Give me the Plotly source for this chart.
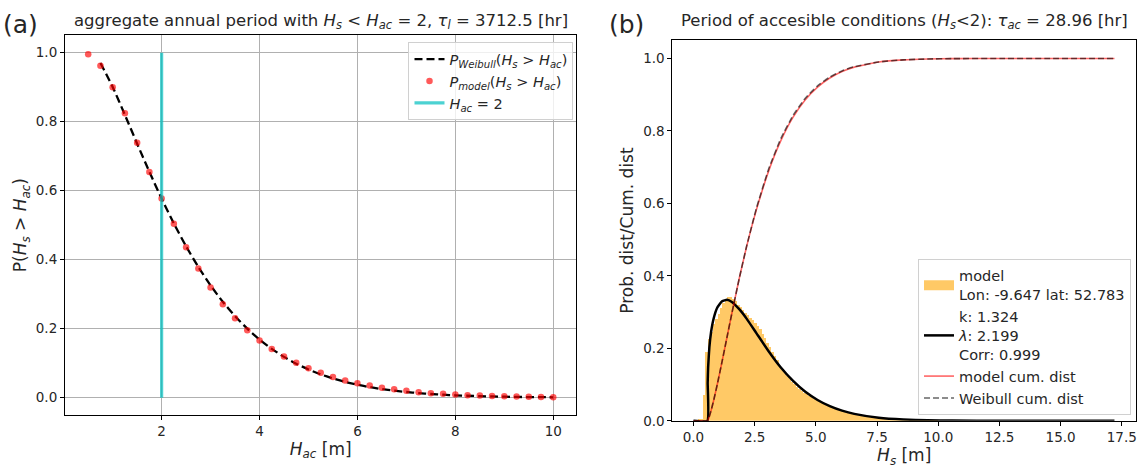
import plotly.graph_objects as go

# ---------------- panel (a): exceedance probability ----------------
hac_model = [0.5, 0.75, 1.0, 1.25, 1.5, 1.75, 2.0, 2.25, 2.5, 2.75, 3.0, 3.25, 3.5,
             3.75, 4.0, 4.25, 4.5, 4.75, 5.0, 5.25, 5.5, 5.75, 6.0, 6.25, 6.5, 6.75,
             7.0, 7.25, 7.5, 7.75, 8.0, 8.25, 8.5, 8.75, 9.0, 9.25, 9.5, 9.75, 10.0]
p_model = [0.995, 0.962, 0.900, 0.824, 0.739, 0.654, 0.577, 0.504, 0.436, 0.374,
           0.319, 0.271, 0.230, 0.195, 0.166, 0.141, 0.119, 0.101, 0.085, 0.072,
           0.060, 0.050, 0.042, 0.035, 0.029, 0.024, 0.020, 0.016, 0.013, 0.011,
           0.009, 0.007, 0.006, 0.005, 0.004, 0.003, 0.0025, 0.002, 0.0015]
hac_weib = hac_model[1:]
p_weib = [0.970, 0.9006, 0.8195, 0.7361, 0.6545, 0.577, 0.5048, 0.4386, 0.3789,
          0.3254, 0.2779, 0.2364, 0.2000, 0.1685, 0.1414, 0.1182, 0.0984, 0.0817,
          0.0675, 0.0557, 0.0457, 0.0374, 0.0306, 0.0249, 0.0202, 0.0164, 0.0132,
          0.0106, 0.0085, 0.0068, 0.0055, 0.0044, 0.0035, 0.0028, 0.0022, 0.0017,
          0.0014, 0.0011]
h_access = 2
tau_l = 3712.5

# ---------------- panel (b): distribution of Hs ----------------
hist_left = [round(0.1 * i, 1) for i in range(100)]
hist_dens = [0.0, 0.002, 0.003, 0.004, 0.07, 0.19, 0.225, 0.245, 0.265, 0.28,
             0.295, 0.31, 0.325, 0.335, 0.342, 0.34, 0.335, 0.33, 0.32, 0.312,
             0.305, 0.297, 0.29, 0.283, 0.276, 0.268, 0.26, 0.252, 0.24, 0.228,
             0.215, 0.203, 0.19, 0.178, 0.166, 0.148, 0.138, 0.13, 0.122, 0.114,
             0.107, 0.1, 0.093, 0.087, 0.081, 0.076, 0.072, 0.068, 0.064, 0.06,
             0.057, 0.053, 0.05, 0.047, 0.044, 0.041, 0.038, 0.036, 0.033, 0.031,
             0.029, 0.027, 0.025, 0.023, 0.022, 0.02, 0.019, 0.017, 0.016, 0.015,
             0.014, 0.013, 0.012, 0.011, 0.01, 0.0095, 0.009, 0.008, 0.0075, 0.007,
             0.0065, 0.006, 0.0055, 0.005, 0.0045, 0.004, 0.0037, 0.0034, 0.003,
             0.0028, 0.0025, 0.0022, 0.002, 0.0018, 0.0016, 0.0015, 0.0013, 0.0012,
             0.0011, 0.001]
hist_bin = 0.1
hs_curve = [0.0, 0.57, 0.58, 0.60, 0.65, 0.72, 0.82, 0.97, 1.17, 1.37, 1.57, 1.87,
            2.17, 2.57, 3.07, 3.57, 4.07, 4.57, 5.07, 5.57, 6.07, 6.57, 7.57, 8.57,
            9.57, 10.57, 12.57, 14.57, 17.2]
pdf_weib = [0.0, 0.0, 0.105, 0.149, 0.203, 0.245, 0.281, 0.312, 0.330, 0.334,
            0.328, 0.308, 0.282, 0.242, 0.192, 0.147, 0.110, 0.080, 0.0575, 0.0404,
            0.028, 0.0191, 0.0085, 0.0036, 0.0015, 0.0006, 0.0001, 0.00001, 0.0]
cdf_weib = [0.0, 0.0, 0.0008, 0.0034, 0.0124, 0.0282, 0.0547, 0.0994, 0.164,
            0.2306, 0.2969, 0.3926, 0.4813, 0.586, 0.6943, 0.7788, 0.8428, 0.8901,
            0.9243, 0.9486, 0.9655, 0.9771, 0.9903, 0.996, 0.9984, 0.9994, 0.9999,
            1.0, 1.0]
cdf_model = [0.0, 0.0, 0.0008, 0.0034, 0.0124, 0.0282, 0.0547, 0.0994, 0.164,
             0.2306, 0.2969, 0.3926, 0.4805, 0.582, 0.689, 0.773, 0.838, 0.886,
             0.921, 0.946, 0.964, 0.976, 0.990, 0.996, 0.9984, 0.9994, 0.9999,
             1.0, 1.0]
tau_ac = 28.96

FONT = "DejaVu Sans"
TXT = "#262626"
ORANGE = "rgba(255,165,0,0.6)"

fig = go.Figure()

# (a)
fig.add_trace(go.Scatter(
    x=hac_weib, y=p_weib, mode="lines", xaxis="x", yaxis="y", legend="legend",
    line=dict(color="black", width=2.3, dash="8px,4px", shape="spline", smoothing=0.6),
    name="<i>P<sub>Weibull</sub></i>(<i>H<sub>s</sub></i> > <i>H<sub>ac</sub></i>)"))
fig.add_trace(go.Scatter(
    x=hac_model, y=p_model, mode="markers", xaxis="x", yaxis="y", legend="legend",
    marker=dict(color="rgba(255,0,0,0.65)", size=6.5, line=dict(width=0)),
    name="<i>P<sub>model</sub></i>(<i>H<sub>s</sub></i> > <i>H<sub>ac</sub></i>)"))
fig.add_trace(go.Scatter(
    x=[h_access, h_access], y=[0, 1], mode="lines", xaxis="x", yaxis="y", legend="legend",
    line=dict(color="rgba(0,191,191,0.7)", width=3.2),
    name="<i>H<sub>ac</sub></i> = %g" % h_access))

# (b)
fig.add_trace(go.Bar(
    x=[v + hist_bin / 2 for v in hist_left], y=hist_dens, width=hist_bin,
    xaxis="x2", yaxis="y2", showlegend=False,
    marker=dict(color=ORANGE, line=dict(width=0)), name="model"))
# legend patch for the histogram (wide swatch)
fig.add_trace(go.Scatter(
    x=[None], y=[None], mode="lines", xaxis="x2", yaxis="y2", legend="legend2",
    line=dict(color=ORANGE, width=10),
    name="model<br>Lon: -9.647 lat: 52.783"))
fig.add_trace(go.Scatter(
    x=hs_curve, y=pdf_weib, mode="lines", xaxis="x2", yaxis="y2", legend="legend2",
    line=dict(color="black", width=2.5, shape="spline", smoothing=0.4),
    name="k: 1.324<br><i>λ</i>: 2.199<br>Corr: 0.999"))
fig.add_trace(go.Scatter(
    x=hs_curve, y=cdf_model, mode="lines", xaxis="x2", yaxis="y2", legend="legend2",
    line=dict(color="rgba(255,0,0,0.6)", width=1.6, shape="spline", smoothing=0.4),
    name="model cum. dist"))
fig.add_trace(go.Scatter(
    x=hs_curve, y=cdf_weib, mode="lines", xaxis="x2", yaxis="y2", legend="legend2",
    line=dict(color="rgba(0,0,0,0.6)", width=1.6, dash="6px,3px", shape="spline", smoothing=0.4),
    name="Weibull cum. dist"))

W, H = 1143, 476
ax_a = (65, 577, 36, 422)
ax_b = (673, 1137, 41, 428)


def dom_x(a):
    return [a[0] / W, a[1] / W]


def dom_y(a):
    return [1 - a[3] / H, 1 - a[2] / H]


axis_common = dict(showline=True, linecolor="black", linewidth=1, mirror=True,
                   ticks="outside", ticklen=4, tickcolor="black", zeroline=False,
                   tickfont=dict(family=FONT, size=13.5, color=TXT))
label_font = dict(family=FONT, size=17, color=TXT)
legend_common = dict(bgcolor="rgba(255,255,255,0.8)", bordercolor="#d0d0d0",
                     borderwidth=1, itemwidth=30, tracegroupgap=0,
                     font=dict(family=FONT, size=14.5, color=TXT))

fig.update_layout(
    width=W, height=H, margin=dict(l=0, r=0, t=0, b=0),
    paper_bgcolor="white", plot_bgcolor="white", bargap=0,
    font=dict(family=FONT, color=TXT),
    xaxis=dict(domain=dom_x(ax_a), range=[0.025, 10.475], tickvals=[2, 4, 6, 8, 10],
               showgrid=True, gridcolor="#b0b0b0", gridwidth=0.8, anchor="y",
               title=dict(text="<i>H<sub>ac</sub></i> [m]", font=label_font, standoff=4),
               **axis_common),
    yaxis=dict(domain=dom_y(ax_a), range=[-0.05, 1.05], tickvals=[0, 0.2, 0.4, 0.6, 0.8, 1.0],
               tickformat=".1f", showgrid=True, gridcolor="#b0b0b0", gridwidth=0.8, anchor="x",
               title=dict(text="P(<i>H<sub>s</sub></i> > <i>H<sub>ac</sub></i>)", font=label_font, standoff=4),
               **axis_common),
    xaxis2=dict(domain=dom_x(ax_b), range=[-0.86, 18.08],
                tickvals=[0, 2.5, 5, 7.5, 10, 12.5, 15, 17.5], tickformat=".1f",
                showgrid=False, anchor="y2",
                title=dict(text="<i>H<sub>s</sub></i> [m]", font=label_font, standoff=2),
                **axis_common),
    yaxis2=dict(domain=dom_y(ax_b), range=[0, 1.05], tickvals=[0, 0.2, 0.4, 0.6, 0.8, 1.0],
                tickformat=".1f", showgrid=False, anchor="x2",
                title=dict(text="Prob. dist/Cum. dist", font=label_font, standoff=5),
                **axis_common),
    legend=dict(x=574 / W, y=1 - 43 / H, xanchor="right", yanchor="top", **legend_common),
    legend2=dict(x=1132 / W, y=1 - 422 / H, xanchor="right", yanchor="bottom", **legend_common),
    annotations=[
        dict(text="(a)", x=21 / W, y=1 - 25 / H, xref="paper", yref="paper",
             xanchor="center", yanchor="middle", showarrow=False,
             font=dict(family=FONT, size=25, color=TXT)),
        dict(text="(b)", x=627 / W, y=1 - 25 / H, xref="paper", yref="paper",
             xanchor="center", yanchor="middle", showarrow=False,
             font=dict(family=FONT, size=25, color=TXT)),
        dict(text="aggregate annual period with <i>H<sub>s</sub></i> &lt; <i>H<sub>ac</sub></i> = %g, "
                  "<i>τ<sub>l</sub></i> = %.1f [hr]" % (h_access, tau_l),
             x=(ax_a[0] + ax_a[1]) / 2 / W, y=1 - 22 / H, xref="paper", yref="paper",
             xanchor="center", yanchor="middle", showarrow=False,
             font=dict(family=FONT, size=16.5, color=TXT)),
        dict(text="Period of accesible conditions (<i>H<sub>s</sub></i>&lt;%g): "
                  "<i>τ<sub>ac</sub></i> = %.2f [hr]" % (h_access, tau_ac),
             x=(ax_b[0] + ax_b[1]) / 2 / W, y=1 - 22 / H, xref="paper", yref="paper",
             xanchor="center", yanchor="middle", showarrow=False,
             font=dict(family=FONT, size=16.5, color=TXT)),
    ],
)

fig.write_html("out.html")
